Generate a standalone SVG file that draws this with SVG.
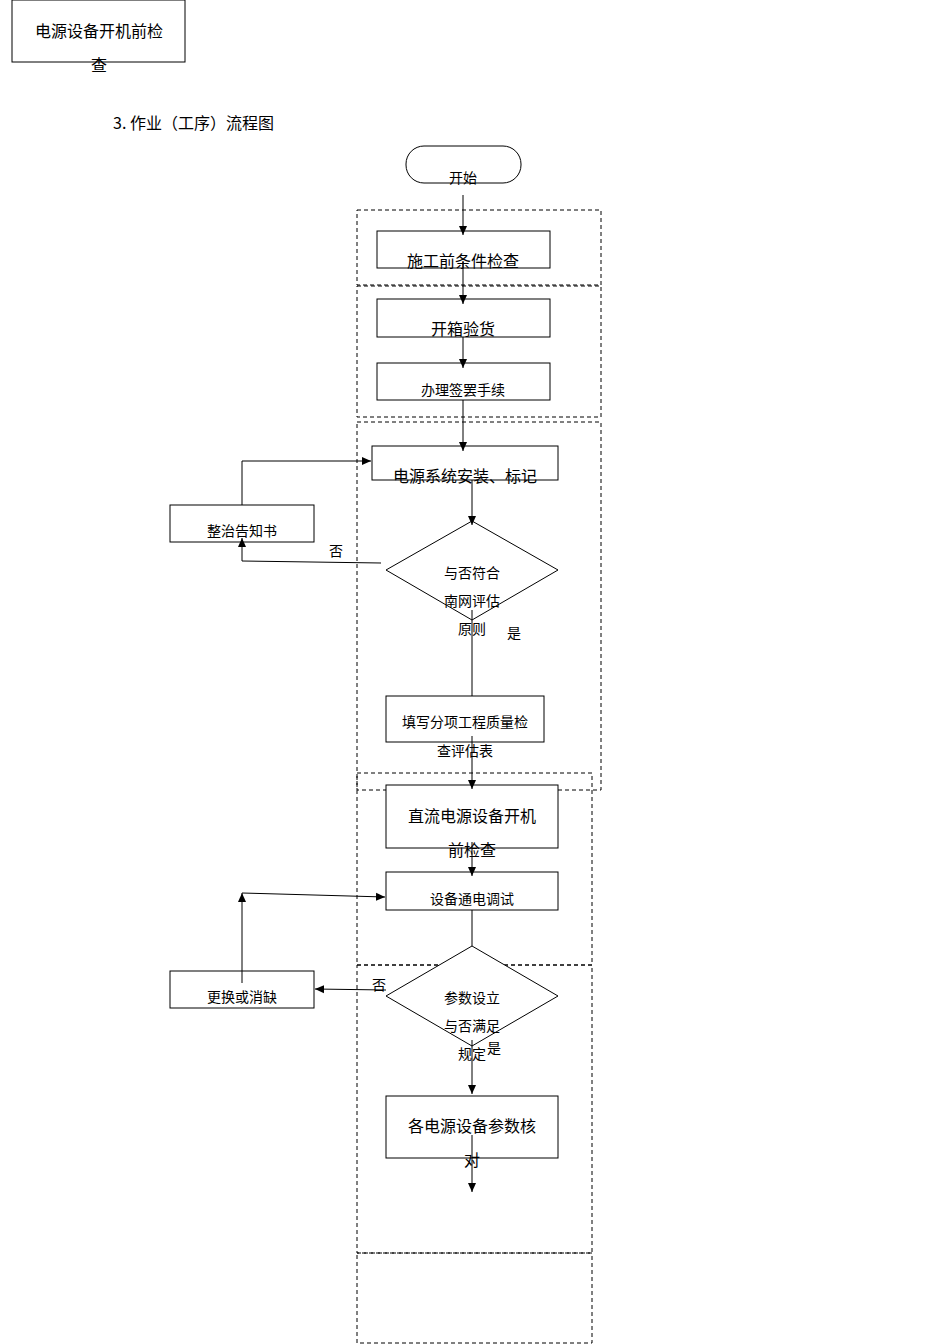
<svg xmlns="http://www.w3.org/2000/svg" width="950" height="1344" viewBox="0 0 950 1344">
<style>
.b{fill:#fff;stroke:#000;stroke-width:1}
.d{fill:none;stroke:#000;stroke-width:1;stroke-dasharray:4,3}
.l{fill:none;stroke:#000;stroke-width:1}
text{font-family:"Noto Sans CJK SC",sans-serif;font-size:14px;text-anchor:middle;fill:#000}
.lg{font-size:16px}
</style>
<defs><marker id="a" markerWidth="10" markerHeight="10" refX="9" refY="5" orient="auto" markerUnits="userSpaceOnUse"><path d="M0,1 L9,5 L0,9 Z" fill="#000"/></marker></defs>
<g id="topbox"><rect class="b" x="12" y="0" width="173" height="62"/><text class="lg" x="99" y="37">电源设备开机前检</text><text class="lg" x="99" y="71">查</text></g>
<text x="113" y="129" style="text-anchor:start;font-size:16px">3.  作业（工序）流程图</text>
<g id="groups">
<rect class="d" x="357" y="210" width="244" height="75"/>
<rect class="d" x="357" y="286" width="244" height="131"/>
<rect class="d" x="357" y="422" width="244" height="368"/>
<rect class="d" x="357" y="773" width="235" height="192"/>
<rect class="d" x="357" y="965" width="235" height="288"/>
<rect class="d" x="357" y="1253" width="235" height="90"/>
</g>
<g id="start"><rect class="b" x="406" y="146" width="115" height="37" rx="18"/><text x="463" y="183">开始</text></g>
<g id="n1"><rect class="b" x="377" y="231" width="173" height="37"/><text class="lg" x="463" y="267">施工前条件检查</text></g>
<g id="n2"><rect class="b" x="377" y="299" width="173" height="38"/><text class="lg" x="463" y="335">开箱验货</text></g>
<g id="n3"><rect class="b" x="377" y="363" width="173" height="37"/><text x="463" y="395">办理签罢手续</text></g>
<g id="n4"><rect class="b" x="372" y="446" width="186" height="34"/><text class="lg" x="465" y="482">电源系统安装、标记</text></g>
<g id="d1"><polygon class="b" points="472,521 558,570 472,620 386,570"/><text x="472" y="578">与否符合</text><text x="472" y="606">南网评估</text><text x="472" y="634">原则</text></g>
<g id="n5"><rect class="b" x="170" y="505" width="144" height="37"/><text x="242" y="536">整治告知书</text></g>
<g id="n6"><rect class="b" x="386" y="696" width="158" height="46"/><text x="465" y="727">填写分项工程质量检</text><text x="465" y="756">查评估表</text></g>
<g id="n7"><rect class="b" x="386" y="785" width="172" height="63"/><text class="lg" x="472" y="822">直流电源设备开机</text><text class="lg" x="472" y="856">前检查</text></g>
<g id="n8"><rect class="b" x="386" y="872" width="172" height="38"/><text x="472" y="904">设备通电调试</text></g>
<g id="d2"><polygon class="b" points="472,946 558,996 472,1046 386,996"/><text x="472" y="1003">参数设立</text><text x="472" y="1031">与否满足</text><text x="472" y="1059">规定</text></g>
<g id="n9"><rect class="b" x="170" y="971" width="144" height="37"/><text x="242" y="1002">更换或消缺</text></g>
<g id="n10"><rect class="b" x="386" y="1096" width="172" height="62"/><text class="lg" x="472" y="1132">各电源设备参数核</text><text class="lg" x="472" y="1166">对</text></g>
<g id="connectors">
<line class="l" x1="463" y1="195" x2="463" y2="235" marker-end="url(#a)"/>
<line class="l" x1="463" y1="262" x2="463" y2="304" marker-end="url(#a)"/>
<line class="l" x1="463" y1="337" x2="463" y2="368" marker-end="url(#a)"/>
<line class="l" x1="463" y1="400" x2="463" y2="451" marker-end="url(#a)"/>
<line class="l" x1="472" y1="480" x2="472" y2="525" marker-end="url(#a)"/>
<polyline class="l" points="381,563 242,561 242,538" marker-end="url(#a)"/>
<polyline class="l" points="242,505 242,461 371,461" marker-end="url(#a)"/>
<line class="l" x1="472" y1="610" x2="472" y2="696"/>
<line class="l" x1="472" y1="736" x2="472" y2="789" marker-end="url(#a)"/>
<line class="l" x1="472" y1="842" x2="472" y2="876" marker-end="url(#a)"/>
<line class="l" x1="472" y1="910" x2="472" y2="946"/>
<line class="l" x1="386" y1="990" x2="315" y2="989" marker-end="url(#a)"/>
<line class="l" x1="242" y1="983" x2="242" y2="893" marker-end="url(#a)"/>
<line class="l" x1="242" y1="893" x2="385" y2="897" marker-end="url(#a)"/>
<line class="l" x1="472" y1="1040" x2="472" y2="1094" marker-end="url(#a)"/>
<line class="l" x1="472" y1="1135" x2="472" y2="1192" marker-end="url(#a)"/>
<text x="336" y="556">否</text><text x="514" y="638">是</text>
<text x="379" y="990">否</text><text x="494" y="1053">是</text>
</g>
</svg>
